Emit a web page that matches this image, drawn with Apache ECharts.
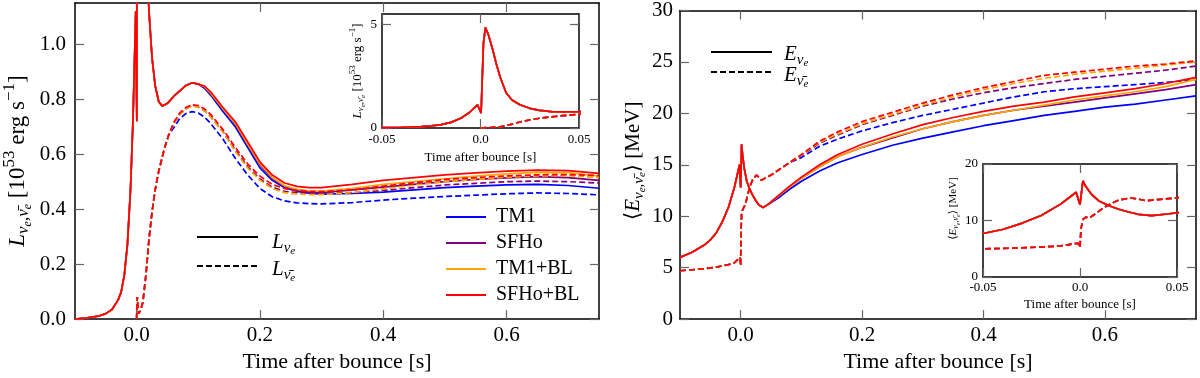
<!DOCTYPE html>
<html>
<head>
<meta charset="utf-8">
<script src="https://cdn.jsdelivr.net/npm/echarts@6/dist/echarts.min.js"></script>
<style>
  html, body { margin: 0; padding: 0; background: #fff; }
  #chart { width: 1200px; height: 378px; }
</style>
</head>
<body>
<div id="chart"></div>
<script>
// ---- data ----
const eosNames = ['TM1', 'SFHo', 'TM1+BL', 'SFHo+BL'];
const eosColors = ['#0000ff', '#800080', '#ffa500', '#ff0000'];

// nu_e luminosity [1e53 erg/s], shared early part (all EOS overlap)
const lumNueEarlyT = [-0.1, -0.08, -0.06, -0.05, -0.04, -0.03, -0.025, -0.02, -0.015, -0.01, -0.006, -0.003, -0.0015,
  0.0003, 0.0015, 0.0025, 0.004, 0.006, 0.008, 0.01, 0.013, 0.016, 0.02, 0.025, 0.03, 0.036, 0.042, 0.05, 0.06,
  0.07, 0.08, 0.09, 0.1];
const lumNueEarly = [0.0, 0.005, 0.012, 0.02, 0.035, 0.07, 0.1, 0.16, 0.27, 0.47, 0.72, 0.98, 1.12,
  0.72, 4.1, 4.85, 4.5, 3.85, 3.1, 2.45, 1.7, 1.35, 1.12, 0.95, 0.85, 0.79, 0.775, 0.785, 0.81,
  0.83, 0.85, 0.86, 0.855];
const lumNueLateT = [0.11, 0.12, 0.14, 0.16, 0.18, 0.2, 0.22, 0.24, 0.26, 0.28, 0.3, 0.35, 0.4, 0.45, 0.5, 0.55, 0.6, 0.65, 0.7, 0.75];
const lumNueTM1 = [0.84, 0.815, 0.755, 0.7, 0.625, 0.55, 0.505, 0.478, 0.465, 0.458, 0.455, 0.457, 0.462, 0.47, 0.478, 0.484, 0.488, 0.49, 0.486, 0.476];
const lumNueSFHo = [0.845, 0.822, 0.765, 0.71, 0.635, 0.562, 0.512, 0.482, 0.468, 0.462, 0.46, 0.47, 0.48, 0.49, 0.5, 0.508, 0.514, 0.518, 0.515, 0.505];
const lumNueTM1BL = [0.845, 0.822, 0.765, 0.712, 0.637, 0.565, 0.515, 0.485, 0.472, 0.467, 0.466, 0.476, 0.49, 0.5, 0.51, 0.52, 0.528, 0.534, 0.533, 0.52];
const lumNueSFHoBL = [0.848, 0.827, 0.77, 0.718, 0.645, 0.572, 0.524, 0.495, 0.483, 0.478, 0.478, 0.49, 0.505, 0.515, 0.525, 0.532, 0.538, 0.542, 0.54, 0.53];

// anti-nu_e luminosity
const lumNuebEarlyT = [0.0, 0.001, 0.003, 0.006, 0.01, 0.015, 0.02, 0.025, 0.03, 0.036, 0.045, 0.052];
const lumNuebEarly = [0.0, 0.08, 0.02, 0.03, 0.06, 0.16, 0.29, 0.39, 0.47, 0.54, 0.62, 0.67];
const lumNuebLateT = [0.06, 0.07, 0.08, 0.09, 0.1, 0.11, 0.12, 0.14, 0.16, 0.18, 0.2, 0.22, 0.24, 0.26, 0.28, 0.3, 0.35, 0.4, 0.45, 0.5, 0.55, 0.6, 0.65, 0.7, 0.75];
const lumNuebTM1 = [0.695, 0.73, 0.748, 0.755, 0.75, 0.735, 0.712, 0.655, 0.585, 0.525, 0.475, 0.445, 0.43, 0.423, 0.42, 0.419, 0.424, 0.433, 0.44, 0.446, 0.451, 0.456, 0.459, 0.457, 0.452];
const lumNuebSFHo = [0.71, 0.745, 0.765, 0.777, 0.772, 0.758, 0.737, 0.682, 0.615, 0.555, 0.51, 0.48, 0.465, 0.46, 0.458, 0.457, 0.46, 0.468, 0.478, 0.488, 0.494, 0.5, 0.502, 0.5, 0.495];
const lumNuebTM1BL = [0.71, 0.745, 0.765, 0.775, 0.772, 0.758, 0.735, 0.68, 0.61, 0.55, 0.505, 0.475, 0.46, 0.455, 0.453, 0.453, 0.46, 0.474, 0.487, 0.5, 0.508, 0.516, 0.521, 0.522, 0.515];
const lumNuebSFHoBL = [0.715, 0.75, 0.77, 0.78, 0.777, 0.765, 0.745, 0.69, 0.625, 0.565, 0.52, 0.49, 0.475, 0.468, 0.465, 0.464, 0.47, 0.484, 0.496, 0.508, 0.515, 0.521, 0.525, 0.526, 0.522];

// nu_e mean energy [MeV]
const eNueEarlyT = [-0.1, -0.08, -0.06, -0.05, -0.04, -0.03, -0.02, -0.01, -0.005, -0.002, 0.0, 0.0006, 0.0015, 0.003,
  0.006, 0.01, 0.015, 0.02, 0.025, 0.03, 0.037, 0.045];
const eNueEarly = [6.0, 6.5, 7.2, 7.7, 8.4, 9.5, 10.9, 12.9, 14.2, 15.0, 12.8, 14.5, 17.0, 16.0,
  14.6, 13.4, 12.6, 12.0, 11.5, 11.1, 10.85, 11.15];
const eNueLateT = [0.06, 0.08, 0.1, 0.13, 0.16, 0.2, 0.25, 0.3, 0.35, 0.4, 0.45, 0.5, 0.55, 0.6, 0.65, 0.7, 0.75];
const eNueTM1 = [11.7, 12.6, 13.4, 14.4, 15.2, 16.0, 16.9, 17.6, 18.2, 18.8, 19.3, 19.8, 20.2, 20.6, 20.9, 21.3, 21.7];
const eNueSFHo = [11.85, 12.8, 13.7, 14.8, 15.8, 16.7, 17.6, 18.5, 19.2, 19.8, 20.3, 20.7, 21.1, 21.5, 21.9, 22.3, 22.8];
const eNueTM1BL = [11.85, 12.8, 13.7, 14.8, 15.8, 16.7, 17.7, 18.5, 19.2, 19.8, 20.3, 20.8, 21.3, 21.7, 22.1, 22.6, 23.3];
const eNueSFHoBL = [11.9, 12.9, 13.8, 15.0, 16.0, 17.0, 18.0, 18.9, 19.6, 20.2, 20.7, 21.1, 21.6, 22.0, 22.4, 22.9, 23.5];

// anti-nu_e mean energy [MeV]
const eNuebEarlyT = [-0.1, -0.08, -0.06, -0.04, -0.02, -0.01, -0.001, 0.0, 0.0005, 0.0015, 0.003, 0.005, 0.008, 0.012,
  0.016, 0.02, 0.026, 0.03, 0.034, 0.04, 0.05, 0.06, 0.08];
const eNuebEarly = [4.7, 4.8, 4.9, 5.05, 5.3, 5.5, 6.0, 5.2, 8.5, 10.2, 10.6, 10.5, 11.2, 12.2,
  13.0, 13.6, 14.0, 13.8, 13.5, 13.7, 14.0, 14.4, 15.2];
const eNuebLateT = [0.1, 0.13, 0.16, 0.2, 0.25, 0.3, 0.35, 0.4, 0.45, 0.5, 0.55, 0.6, 0.65, 0.7, 0.75];
const eNuebTM1 = [15.7, 16.8, 17.5, 18.3, 19.1, 19.8, 20.4, 21.0, 21.6, 22.1, 22.4, 22.6, 22.8, 23.0, 23.3];
const eNuebSFHo = [15.9, 17.1, 17.9, 18.9, 19.8, 20.7, 21.4, 22.0, 22.5, 22.9, 23.3, 23.6, 23.9, 24.2, 24.6];
const eNuebTM1BL = [15.95, 17.2, 18.0, 19.0, 19.9, 20.8, 21.6, 22.3, 22.9, 23.4, 23.8, 24.1, 24.4, 24.7, 25.0];
const eNuebSFHoBL = [16.0, 17.3, 18.2, 19.2, 20.1, 21.0, 21.8, 22.5, 23.1, 23.7, 24.0, 24.3, 24.6, 24.8, 25.1];

// tick labels
const mainTimeTicks = [0, 0.2, 0.4, 0.6];
const insetTimeTicks = [-0.05, 0, 0.05];
const lumTicks = [0, 0.2, 0.4, 0.6, 0.8, 1.0];
const lumInsetTicks = [0, 5];
const energyTicks = [0, 5, 10, 15, 20, 25, 30];
const energyInsetTicks = [0, 10, 20];

// ---- helpers ----
const FONT = 'Liberation Serif, DejaVu Serif, serif';

function richSet(size) {
  return {
    n: { fontFamily: FONT, fontSize: size, verticalAlign: 'middle' },
    L: { fontFamily: FONT, fontSize: size, fontStyle: 'italic', verticalAlign: 'middle' },
    s: { fontFamily: FONT, fontSize: Math.round(size * 0.72), fontStyle: 'italic', verticalAlign: 'middle',
      padding: [Math.round(size * 0.55), 0, 0, 0] },
    ss: { fontFamily: FONT, fontSize: Math.round(size * 0.52), fontStyle: 'italic', verticalAlign: 'middle',
      padding: [Math.round(size * 0.9), 0, 0, 0] },
    p: { fontFamily: FONT, fontSize: Math.round(size * 0.72), verticalAlign: 'middle',
      padding: [0, 0, Math.round(size * 0.7), 0] }
  };
}

const BAR = 'ν\u0304';
const lumLabel = '{L|L}{s|ν}{ss|e}{s|,' + BAR + '}{ss|e}{n| [10}{p|53}{n| erg s}{p|−1}{n|]}';
const energyLabel = '{n|⟨}{L|E}{s|ν}{ss|e}{s|,' + BAR + '}{ss|e}{n|⟩ [MeV]}';

function pts(t, v) { return t.map((x, i) => [x, v[i]]); }
function join(tA, vA, tB, vB) { return pts(tA, vA).concat(pts(tB, vB)); }

const tickStyle = { inside: true, length: 9, lineStyle: { color: '#666', width: 1.2 } };
const frame = { show: true, onZero: false, lineStyle: { color: '#000', width: 1.5 } };

function axesFor(gi, xr, yr, o) {
  const xs = [
    {
      type: 'value', gridIndex: gi, position: 'bottom', min: xr[0], max: xr[1],
      axisLine: frame, splitLine: { show: false },
      axisTick: Object.assign({ customValues: o.xTicks }, tickStyle),
      axisLabel: { customValues: o.xTicks, formatter: o.xFmt, fontFamily: FONT, fontSize: o.tick, color: '#000', margin: o.xMargin },
      name: 'Time after bounce [s]', nameLocation: 'middle', nameGap: o.xGap,
      nameTextStyle: { fontFamily: FONT, fontSize: o.title, color: '#000' }
    },
    {
      type: 'value', gridIndex: gi, position: 'top', min: xr[0], max: xr[1],
      axisLine: frame, splitLine: { show: false },
      axisTick: Object.assign({ customValues: o.xTicks }, tickStyle),
      axisLabel: { show: false }
    }
  ];
  const ys = [
    {
      type: 'value', gridIndex: gi, position: 'left', min: yr[0], max: yr[1],
      axisLine: frame, splitLine: { show: false },
      axisTick: Object.assign({ customValues: o.yTicks }, tickStyle),
      axisLabel: { customValues: o.yTicks, formatter: o.yFmt, fontFamily: FONT, fontSize: o.tick, color: '#000', margin: o.yMargin },
      name: o.yName, nameLocation: 'middle', nameGap: o.yGap, nameRotate: 90,
      nameTextStyle: { fontFamily: FONT, fontSize: o.title, color: '#000', rich: richSet(o.yTitle),
        padding: [0, 0, 0, o.yShift || 0] }
    },
    {
      type: 'value', gridIndex: gi, position: 'right', min: yr[0], max: yr[1],
      axisLine: frame, splitLine: { show: false },
      axisTick: Object.assign({ customValues: o.yTicks }, tickStyle),
      axisLabel: { show: false }
    }
  ];
  return { xs, ys };
}

const fmt1 = v => v.toFixed(1);
const fmtInset = v => (v === 0 ? '0.0' : v.toFixed(2));
const fmtInt = v => String(Math.round(v));

const gridDefs = [
  { left: 73, top: 3, width: 526, height: 317 },
  { left: 382, top: 14, width: 197, height: 114, show: true, backgroundColor: '#fff', borderWidth: 0 },
  { left: 680, top: 10, width: 516, height: 312 },
  { left: 983, top: 164, width: 194, height: 113, show: true, backgroundColor: '#fff', borderWidth: 0 }
];

const ax0 = axesFor(0, [-0.1, 0.75], [0, 1.15], {
  xTicks: mainTimeTicks, xFmt: fmt1, yTicks: lumTicks, yFmt: fmt1, tick: 21, title: 22, yTitle: 23,
  xMargin: 6, yMargin: 9, xGap: 28, yGap: 41, yName: lumLabel
});
const ax1 = axesFor(1, [-0.05, 0.05], [0, 5.5], {
  xTicks: insetTimeTicks, xFmt: fmtInset, yTicks: lumInsetTicks, yFmt: fmtInt, tick: 13, title: 13, yTitle: 13,
  xMargin: 5, yMargin: 5, xGap: 23, yGap: 13, yName: lumLabel
});
const ax2 = axesFor(2, [-0.1, 0.75], [0, 30], {
  xTicks: mainTimeTicks, xFmt: fmt1, yTicks: energyTicks, yFmt: fmtInt, tick: 21, title: 22, yTitle: 21,
  xMargin: 6, yMargin: 7, xGap: 28, yGap: 32, yName: energyLabel, yShift: 8
});
const ax3 = axesFor(3, [-0.05, 0.05], [0, 20], {
  xTicks: insetTimeTicks, xFmt: fmtInset, yTicks: energyInsetTicks, yFmt: fmtInt, tick: 13, title: 13, yTitle: 11,
  xMargin: 4, yMargin: 5, xGap: 21, yGap: 21, yName: energyLabel, yShift: 24
});

const lumNueSets = [lumNueTM1, lumNueSFHo, lumNueTM1BL, lumNueSFHoBL];
const lumNuebSets = [lumNuebTM1, lumNuebSFHo, lumNuebTM1BL, lumNuebSFHoBL];
const eNueSets = [eNueTM1, eNueSFHo, eNueTM1BL, eNueSFHoBL];
const eNuebSets = [eNuebTM1, eNuebSFHo, eNuebTM1BL, eNuebSFHoBL];

function line(name, color, data, dashed, gi) {
  return {
    type: 'line', name: name, data: data, xAxisIndex: gi * 2, yAxisIndex: gi * 2,
    showSymbol: false, symbol: 'none', clip: true, animation: false, silent: true,
    itemStyle: { color: color },
    lineStyle: { color: color, width: 1.7, type: dashed ? [6, 3] : 'solid' }
  };
}

const series = [];
[0, 1].forEach(gi => {
  eosNames.forEach((nm, k) => {
    series.push(line(nm, eosColors[k], join(lumNuebEarlyT, lumNuebEarly, lumNuebLateT, lumNuebSets[k]), true, gi));
    series.push(line(nm, eosColors[k], join(lumNueEarlyT, lumNueEarly, lumNueLateT, lumNueSets[k]), false, gi));
  });
});
[2, 3].forEach(gi => {
  eosNames.forEach((nm, k) => {
    series.push(line(nm, eosColors[k], join(eNuebEarlyT, eNuebEarly, eNuebLateT, eNuebSets[k]), true, gi));
    series.push(line(nm, eosColors[k], join(eNueEarlyT, eNueEarly, eNueLateT, eNueSets[k]), false, gi));
  });
});

// line-style keys (solid = nu_e, dashed = anti nu_e)
function keyLine(x1, x2, y, dashed) {
  return { type: 'line', shape: { x1: x1, y1: y, x2: x2, y2: y }, z: 50,
    style: { stroke: '#000', lineWidth: 2, lineDash: dashed ? [6, 3] : null } };
}
function keyText(x, y, text) {
  return { type: 'text', x: x, y: y, z: 50,
    style: { text: text, rich: richSet(21), fontFamily: FONT, fontSize: 21, fill: '#000', align: 'left', verticalAlign: 'middle' } };
}

const graphics = [
  keyLine(197, 258, 237, false), keyText(272, 242, '{L|L}{s|ν}{ss|e}'),
  keyLine(197, 258, 266, true), keyText(272, 269, '{L|L}{s|' + BAR + '}{ss|e}'),
  keyLine(711, 772, 52, false), keyText(784, 54, '{L|E}{s|ν}{ss|e}'),
  keyLine(711, 772, 72, true), keyText(784, 75, '{L|E}{s|' + BAR + '}{ss|e}')
];

const chart = echarts.init(document.getElementById('chart'), null, { renderer: 'canvas' });
chart.setOption({
  backgroundColor: '#fff',
  animation: false,
  grid: gridDefs,
  xAxis: [].concat(ax0.xs, ax1.xs, ax2.xs, ax3.xs),
  yAxis: [].concat(ax0.ys, ax1.ys, ax2.ys, ax3.ys),
  legend: {
    data: eosNames, orient: 'vertical', left: 441, top: 202, itemGap: 6,
    icon: 'rect', itemWidth: 40, itemHeight: 2, selectedMode: false,
    textStyle: { fontFamily: FONT, fontSize: 20, color: '#000', lineHeight: 20, padding: [0, 0, 0, 5] }
  },
  graphic: graphics,
  series: series
});
</script>
</body>
</html>
